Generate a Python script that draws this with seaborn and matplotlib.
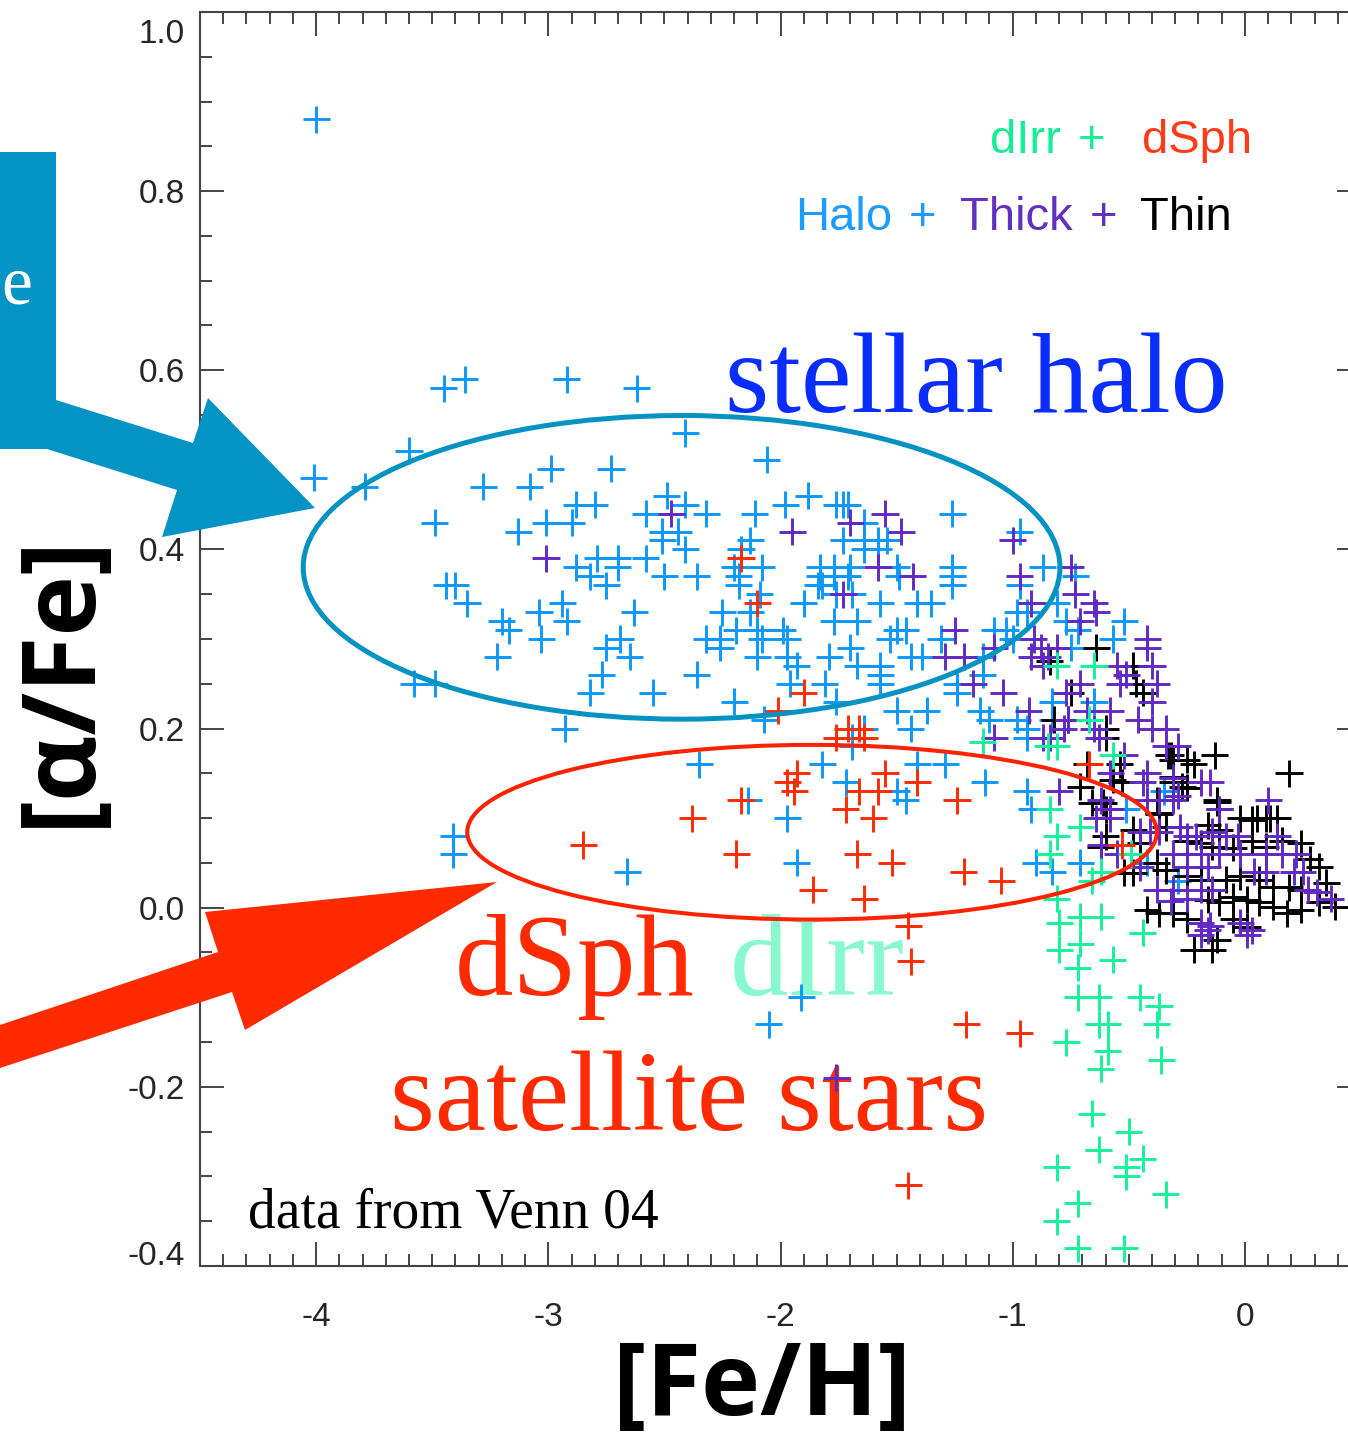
import numpy as np
import pandas as pd
import matplotlib
matplotlib.use("Agg")
import matplotlib.pyplot as plt
import seaborn as sns
from matplotlib.patches import Ellipse, Polygon
from matplotlib.ticker import MultipleLocator
from matplotlib.transforms import ScaledTranslation

# ---- [Fe/H], [alpha/Fe] pairs per population ----
halo_pts = [
    (-4.00, 0.88), (-3.45, 0.58), (-3.36, 0.59), (-2.92, 0.59), (-2.62, 0.58), (-2.41, 0.53), (-2.06, 0.50), (-3.60, 0.51), (-4.01, 0.48), (-3.79, 0.47),
    (-2.99, 0.49), (-2.73, 0.49), (-3.28, 0.47), (-3.08, 0.47), (-2.88, 0.45), (-2.80, 0.45), (-2.49, 0.46), (-2.58, 0.44), (-2.41, 0.45), (-3.49, 0.43),
    (-3.13, 0.42), (-3.01, 0.43), (-2.90, 0.43), (-2.51, 0.42), (-2.44, 0.42), (-2.51, 0.41), (-2.41, 0.40), (-2.88, 0.38), (-2.79, 0.39), (-2.70, 0.39),
    (-2.70, 0.38), (-2.82, 0.37), (-2.75, 0.36), (-2.58, 0.39), (-2.50, 0.37), (-2.36, 0.37), (-3.44, 0.36), (-3.40, 0.36), (-3.35, 0.34), (-3.04, 0.33),
    (-2.94, 0.34), (-2.92, 0.32), (-2.63, 0.33), (-3.20, 0.32), (-3.17, 0.31), (-3.03, 0.30), (-2.69, 0.30), (-2.75, 0.29), (-2.65, 0.28), (-3.22, 0.28),
    (-2.77, 0.26), (-2.82, 0.24), (-2.55, 0.24), (-2.36, 0.26), (-3.58, 0.25), (-3.49, 0.25), (-2.93, 0.20), (-1.88, 0.46), (-1.98, 0.45), (-1.76, 0.45),
    (-1.73, 0.45), (-1.71, 0.45), (-1.26, 0.44), (-2.32, 0.44), (-2.11, 0.44), (-1.64, 0.43), (-1.73, 0.41), (-1.64, 0.41), (-1.58, 0.41), (-1.54, 0.41),
    (-1.64, 0.40), (-1.58, 0.40), (-2.13, 0.41), (-2.17, 0.40), (-2.08, 0.38), (-2.20, 0.38), (-2.18, 0.37), (-2.18, 0.36), (-1.83, 0.38), (-1.77, 0.38),
    (-1.70, 0.38), (-1.83, 0.37), (-1.77, 0.37), (-1.71, 0.37), (-1.84, 0.36), (-1.82, 0.36), (-1.50, 0.38), (-1.49, 0.37), (-1.26, 0.38), (-1.26, 0.37),
    (-1.26, 0.36), (-0.87, 0.38), (-0.97, 0.36), (-2.09, 0.35), (-1.76, 0.35), (-1.69, 0.35), (-1.90, 0.34), (-1.57, 0.34), (-1.41, 0.34), (-1.35, 0.34),
    (-2.25, 0.33), (-2.13, 0.33), (-1.77, 0.32), (-1.67, 0.32), (-2.19, 0.31), (-2.10, 0.31), (-1.99, 0.31), (-1.50, 0.31), (-1.46, 0.31), (-1.08, 0.31),
    (-0.94, 0.33), (-2.32, 0.30), (-2.26, 0.30), (-2.08, 0.30), (-1.97, 0.30), (-1.53, 0.30), (-1.31, 0.30), (-1.00, 0.30), (-2.26, 0.29), (-2.10, 0.28),
    (-1.97, 0.28), (-1.93, 0.27), (-1.79, 0.28), (-1.70, 0.29), (-1.57, 0.27), (-1.57, 0.26), (-1.57, 0.25), (-1.67, 0.27), (-1.44, 0.28), (-1.39, 0.28),
    (-1.13, 0.28), (-1.96, 0.25), (-1.81, 0.25), (-2.20, 0.23), (-2.07, 0.21), (-1.76, 0.23), (-1.50, 0.22), (-1.37, 0.22), (-1.44, 0.20), (-1.69, 0.19),
    (-1.24, 0.25), (-1.24, 0.24), (-1.14, 0.22), (-1.10, 0.21), (-0.98, 0.21), (-0.94, 0.20), (-0.83, 0.23), (-0.83, 0.21), (-2.35, 0.16), (-1.82, 0.16),
    (-1.72, 0.14), (-1.69, 0.18), (-1.64, 0.20), (-2.14, 0.12), (-1.97, 0.10), (-1.50, 0.13), (-1.46, 0.12), (-1.41, 0.16), (-1.29, 0.16), (-1.12, 0.14),
    (-3.41, 0.08), (-3.41, 0.06), (-2.66, 0.04), (-1.93, 0.05), (-1.91, -0.10), (-2.05, -0.13), (-0.97, 0.42), (-0.98, 0.33), (-1.03, 0.31), (-0.81, 0.34),
    (-0.73, 0.37), (-0.77, 0.32), (-0.72, 0.31), (-0.52, 0.32), (-0.57, 0.30), (-0.75, 0.29), (-1.13, 0.26), (-0.65, 0.23), (-0.94, 0.19), (-0.94, 0.13),
    (-0.92, 0.11), (-0.35, 0.13), (-0.51, 0.11), (-0.90, 0.05), (-0.83, 0.04), (-0.71, 0.05), (-0.42, 0.05), (-0.29, 0.03),
]

thick_pts = [
    (-2.47, 0.44), (-3.01, 0.39), (-1.55, 0.44), (-1.95, 0.42), (-1.70, 0.43), (-1.48, 0.42), (-1.00, 0.41), (-1.58, 0.38), (-1.43, 0.37), (-1.73, 0.35),
    (-1.25, 0.31), (-1.29, 0.28), (-1.21, 0.28), (-1.17, 0.25), (-1.04, 0.24), (-0.93, 0.22), (-1.08, 0.19), (-0.97, 0.37), (-1.76, -0.19), (-0.75, 0.38),
    (-0.92, 0.34), (-0.73, 0.35), (-0.65, 0.34), (-0.64, 0.33), (-0.71, 0.32), (-0.91, 0.30), (-0.88, 0.29), (-0.81, 0.29), (-0.42, 0.30), (-0.42, 0.29),
    (-1.08, 0.29), (-0.92, 0.28), (-0.87, 0.27), (-0.85, 0.28), (-0.55, 0.27), (-0.51, 0.26), (-0.54, 0.25), (-0.40, 0.27), (-0.38, 0.25), (-0.40, 0.23),
    (-0.77, 0.24), (-0.71, 0.25), (-0.68, 0.22), (-0.58, 0.22), (-0.76, 0.21), (-0.78, 0.20), (-0.87, 0.19), (-0.84, 0.19), (-0.65, 0.20), (-0.63, 0.19),
    (-0.46, 0.21), (-0.40, 0.20), (-0.34, 0.20), (-0.34, 0.18), (-0.29, 0.18), (-0.52, 0.17), (-0.58, 0.15), (-0.42, 0.15), (-0.80, 0.13), (-0.31, 0.145),
    (-0.19, 0.14), (-0.15, 0.14), (-0.29, 0.125), (-0.11, 0.11), (0.10, 0.12), (-0.62, 0.12), (-0.58, 0.11), (-0.44, 0.14), (-0.42, 0.12), (-0.37, 0.12),
    (-0.31, 0.12), (-0.64, 0.10), (-0.58, 0.10), (-0.45, 0.085), (-0.41, 0.085), (-0.37, 0.085), (-0.28, 0.09), (-0.25, 0.08), (-0.21, 0.08), (-0.14, 0.085),
    (-0.08, 0.08), (-0.03, 0.08), (0.14, 0.08), (-0.62, 0.07), (-0.55, 0.06), (-0.31, 0.06), (-0.25, 0.06), (-0.19, 0.06), (-0.11, 0.06), (-0.02, 0.06),
    (0.09, 0.06), (0.16, 0.06), (0.22, 0.06), (-0.45, 0.045), (-0.25, 0.045), (-0.16, 0.045), (0.04, 0.04), (0.09, 0.04), (0.21, 0.04), (0.25, 0.04),
    (-0.38, 0.02), (-0.31, 0.02), (-0.19, 0.02), (-0.14, 0.02), (0.27, 0.02), (0.31, 0.017), (-0.32, 0.007), (-0.25, 0.01), (-0.19, -0.017), (-0.15, -0.02),
    (-0.02, -0.017), (0.03, -0.025), (0.01, -0.03), (0.37, 0.01), (-0.16, -0.025), (-0.19, -0.03),
]

thin_pts = [
    (-0.64, 0.29), (-0.84, 0.275), (-0.75, 0.24), (-0.48, 0.27), (-0.47, 0.25), (-0.44, 0.24), (-0.82, 0.21), (-0.76, 0.21), (-0.60, 0.20), (-0.60, 0.19),
    (-0.33, 0.17), (-0.32, 0.17), (-0.22, 0.16), (-0.13, 0.17), (0.19, 0.15), (-0.68, 0.16), (-0.71, 0.135), (-0.54, 0.16), (-0.53, 0.14), (-0.31, 0.146),
    (-0.27, 0.135), (-0.12, 0.12), (-0.11, 0.11), (0.05, 0.10), (0.11, 0.10), (-0.38, 0.12), (-0.37, 0.105), (-0.66, 0.117), (-0.60, 0.11), (-0.31, 0.165),
    (-0.25, 0.165), (-0.57, 0.143), (-0.61, 0.117), (-0.31, 0.14), (-0.25, 0.134), (-0.12, 0.118), (-0.02, 0.10), (0.03, 0.098), (0.09, 0.10), (0.14, 0.10),
    (-0.60, 0.08), (-0.62, 0.068), (-0.48, 0.087), (-0.45, 0.072), (-0.37, 0.106), (-0.34, 0.09), (-0.16, 0.092), (-0.11, 0.087), (-0.25, 0.075), (-0.19, 0.072),
    (-0.14, 0.068), (-0.05, 0.067), (0.03, 0.075), (0.09, 0.068), (0.16, 0.075), (0.24, 0.072), (0.28, 0.054), (0.32, 0.046), (-0.52, 0.039), (-0.48, 0.039),
    (-0.38, 0.05), (-0.34, 0.042), (-0.25, 0.035), (-0.19, 0.031), (-0.08, 0.031), (-0.02, 0.035), (0.06, 0.031), (0.12, 0.023), (0.19, 0.023), (0.24, 0.02),
    (0.35, 0.028), (0.39, 0.001), (-0.42, -0.002), (-0.37, -0.006), (-0.16, 0.009), (-0.11, 0.006), (-0.05, 0.012), (0.01, 0.009), (0.06, 0.006), (0.12, 0.001),
    (0.18, -0.006), (0.24, -0.002), (0.32, 0.006), (-0.22, -0.047), (-0.14, -0.047), (-0.12, -0.036), (-0.31, -0.006), (-0.25, -0.013), (-0.05, -0.013), (0.01, -0.021),
]

dirr_pts = [
    (-1.13, 0.185), (-0.81, 0.27), (-0.85, 0.18), (-0.65, 0.27), (-0.67, 0.21), (-0.57, 0.17), (-0.81, 0.18), (-0.84, 0.11), (-0.81, 0.08), (-0.71, 0.09),
    (-0.84, 0.06), (-0.49, 0.06), (-0.62, 0.04), (-0.66, 0.03), (-0.81, 0.01), (-0.80, -0.017), (-0.71, -0.01), (-0.62, -0.01), (-0.44, -0.028), (-0.80, -0.047),
    (-0.71, -0.04), (-0.72, -0.067), (-0.57, -0.058), (-0.72, -0.10), (-0.63, -0.10), (-0.45, -0.10), (-0.37, -0.11), (-0.63, -0.13), (-0.59, -0.13), (-0.38, -0.13),
    (-0.77, -0.15), (-0.59, -0.16), (-0.36, -0.17), (-0.62, -0.18), (-0.66, -0.23), (-0.50, -0.25), (-0.63, -0.27), (-0.44, -0.28), (-0.51, -0.30), (-0.51, -0.29),
    (-0.81, -0.29), (-0.34, -0.32), (-0.72, -0.33), (-0.81, -0.35), (-0.72, -0.38), (-0.52, -0.38),
]

dsph_pts = [
    (-2.17, 0.39), (-2.10, 0.34), (-1.90, 0.24), (-2.01, 0.22), (-1.71, 0.20), (-1.66, 0.20), (-1.76, 0.19), (-1.64, 0.19), (-1.93, 0.15), (-1.97, 0.14),
    (-1.94, 0.13), (-1.55, 0.15), (-1.58, 0.13), (-1.66, 0.13), (-1.41, 0.14), (-2.17, 0.12), (-2.38, 0.10), (-1.72, 0.11), (-1.60, 0.10), (-1.24, 0.12),
    (-2.85, 0.07), (-2.19, 0.06), (-1.67, 0.06), (-1.52, 0.05), (-1.21, 0.04), (-1.05, 0.03), (-1.86, 0.02), (-1.64, 0.01), (-1.45, -0.02), (-1.44, -0.06),
    (-1.20, -0.13), (-0.97, -0.14), (-1.45, -0.31), (-0.67, 0.16), (-0.53, 0.07),
]

x_ticks = [-4, -3, -2, -1, 0]
x_tick_labels = ["-4", "-3", "-2", "-1", "0"]
y_ticks = [-0.4, -0.2, 0.0, 0.2, 0.4, 0.6, 0.8, 1.0]
y_tick_labels = ["-0.4", "-0.2", "0.0", "0.2", "0.4", "0.6", "0.8", "1.0"]

palette = {
    "Halo": "#0A98FF",
    "Thin": "#000000",
    "Thick": "#6229C2",
    "dIrr": "#14F29B",
    "dSph": "#FF2A00",
}

# drawing order of the populations (later ones on top)
order = [("Halo", halo_pts), ("Thin", thin_pts), ("Thick", thick_pts),
         ("dIrr", dirr_pts), ("dSph", dsph_pts)]
df = pd.concat(
    [pd.DataFrame(pts, columns=["feh", "afe"]).assign(pop=name) for name, pts in order],
    ignore_index=True,
)

sns.set_theme(style="ticks")
plt.rcParams["font.family"] = ["Liberation Sans", "DejaVu Sans"]

W, H = 1348, 1437
fig = plt.figure(figsize=(W / 100, H / 100), dpi=100)
ax = fig.add_axes([200 / W, 1 - 1266 / H, 1161 / W, 1254 / H])


def fpos(x, y):
    """Pixel position (from top-left) to figure fraction."""
    return x / W, 1 - y / H


sns.scatterplot(data=df, x="feh", y="afe", hue="pop", palette=palette,
                marker="+", s=380, linewidth=2.1, legend=False, ax=ax, zorder=4)

ax.set_xlim(-4.5, 0.5)
ax.set_ylim(-0.4, 1.0)
ax.set_xticks(x_ticks, x_tick_labels)
ax.set_yticks(y_ticks, y_tick_labels)
ax.xaxis.set_minor_locator(MultipleLocator(0.1))
ax.yaxis.set_minor_locator(MultipleLocator(0.05))
ax.tick_params(which="both", direction="in", top=True, right=True,
               color="#444444", width=1.4)
ax.tick_params(which="major", length=17, labelsize=24, labelcolor="#262626")
ax.tick_params(which="minor", length=8.5)
ax.tick_params(axis="x", pad=26)
ax.tick_params(axis="y", pad=11)
for sp in ax.spines.values():
    sp.set_color("#444444")
    sp.set_linewidth(1.5)

ax.set_xlabel("[Fe/H]", family=["Open Sans", "DejaVu Sans"], fontweight="bold",
              fontsize=72, color="black")
ax.set_ylabel("[α/Fe]", family=["Open Sans", "DejaVu Sans"], fontweight="bold",
              fontsize=74, color="black")
ax.xaxis.set_label_coords((762 - 200) / 1161, (1266 - 1338) / 1254)
ax.yaxis.set_label_coords((114 - 200) / 1161, (1266 - 680) / 1254)

# ellipses around the two groups
ax.add_patch(Ellipse((-2.426, 0.380), 3.259, 0.339, fill=False,
                     ec="#0392C2", lw=3.6, zorder=5))
ax.add_patch(Ellipse((-1.864, 0.0843), 2.970, 0.195, fill=False,
                     ec="#FF2200", lw=2.9, zorder=5))

# big labels (beneath the markers)
serif = ["Liberation Serif", "DejaVu Serif"]
ax.text(*fpos(725, 412), "stellar halo", transform=fig.transFigure, family=serif,
        fontsize=82, color="#0A2DFF", ha="left", va="baseline", zorder=1)
ax.text(*fpos(455, 995), "dSph", transform=fig.transFigure, family=serif,
        fontsize=84, color="#FF2A00", ha="left", va="baseline", zorder=1)
ax.text(*fpos(730, 995), "dIrr", transform=fig.transFigure, family=serif,
        fontsize=84, color="#88F8D0", ha="left", va="baseline", zorder=1)
ax.text(*fpos(390, 1130), "satellite stars", transform=fig.transFigure, family=serif,
        fontsize=83, color="#FF2A00", ha="left", va="baseline", zorder=1)
ax.text(*fpos(248, 1228), "data from Venn 04", transform=fig.transFigure, family=serif,
        fontsize=40, color="black", ha="left", va="baseline", zorder=1)

# key in the upper right
key = [
    ("dIrr", 990, 153, "#16EE96"), ("+", 1078, 153, "#16EE96"), ("dSph", 1142, 153, "#FF3B1A"),
    ("Halo", 795, 230, "#1E9BFF"), ("+", 909, 230, "#1E9BFF"), ("Thick", 960, 230, "#6130C0"),
    ("+", 1090, 230, "#6130C0"), ("Thin", 1140, 230, "#000000"),
]
for txt, kx, ky, col in key:
    ax.text(*fpos(kx, ky), txt, transform=fig.transFigure, fontsize=34, color=col,
            ha="left", va="baseline", zorder=1)

# pointer shapes in the left margin
blue_shape = [(0, 152), (56, 152), (56, 400), (193, 443), (208, 398), (315, 508),
              (162, 537), (177, 490), (47, 449), (0, 449)]
red_shape = [(0, 1025), (218, 952), (205, 912), (497, 882), (245, 1030), (232, 992), (0, 1068)]
fig.add_artist(Polygon([fpos(*p) for p in blue_shape], closed=True, fc="#0393C4",
                       ec="none", transform=fig.transFigure, zorder=6))
fig.add_artist(Polygon([fpos(*p) for p in red_shape], closed=True, fc="#FF2A00",
                       ec="none", transform=fig.transFigure, zorder=6))
fig.text(*fpos(1, 303), "e", family=serif, fontsize=50, color="white",
         ha="left", va="baseline", zorder=7)

# end labels kept inside the frame
ylabs = ax.get_yticklabels()
ylabs[0].set_verticalalignment("bottom")
ylabs[0].set_transform(ylabs[0].get_transform() + ScaledTranslation(0, -4 / 72, fig.dpi_scale_trans))
ylabs[-1].set_verticalalignment("top")
ylabs[-1].set_transform(ylabs[-1].get_transform() + ScaledTranslation(0, -5 / 72, fig.dpi_scale_trans))

fig.savefig("out.png", dpi=100)
